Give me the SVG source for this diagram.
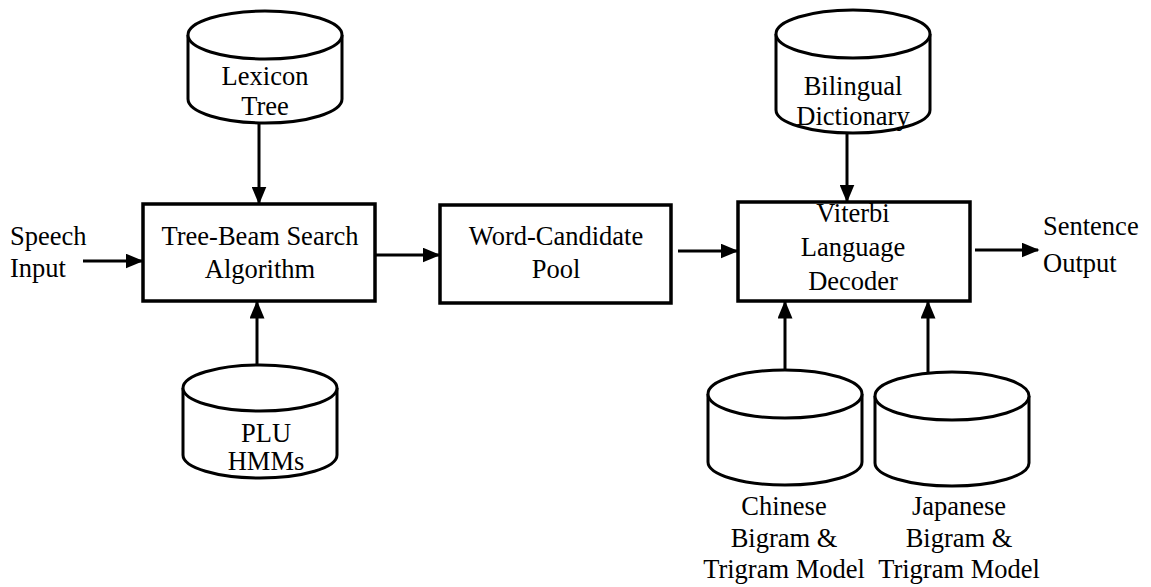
<svg xmlns="http://www.w3.org/2000/svg" width="1151" height="587" viewBox="0 0 1151 587">
  <style>
    .box { fill: #fff; stroke: #000; stroke-width: 3.5; }
    .db { fill: #fff; stroke: #000; stroke-width: 3; }
    .lbl { font-family: "Liberation Serif", "Times New Roman", serif; font-size: 26.5px; fill: #000; }
    .c { text-anchor: middle; }
    .edge { stroke: #000; stroke-width: 3; fill: none; marker-end: url(#arrow); }
  </style>
  <defs>
    <marker id="arrow" markerWidth="6" markerHeight="5" refX="5.5" refY="2.5" orient="auto" markerUnits="strokeWidth">
      <path d="M0,0 L6,2.5 L0,5 Z" fill="#000"/>
    </marker>
  </defs>
  <rect width="1151" height="587" fill="#fff"/>

  <!-- connectors -->
  <g id="connectors">
    <line class="edge" x1="83" y1="261" x2="142" y2="261"/>
    <line class="edge" x1="376" y1="255" x2="439" y2="255"/>
    <line class="edge" x1="678" y1="251" x2="737" y2="251"/>
    <line class="edge" x1="975" y1="250" x2="1038" y2="250"/>
    <line class="edge" x1="259" y1="123" x2="259" y2="203"/>
    <line class="edge" x1="257" y1="365" x2="257" y2="302"/>
    <line class="edge" x1="847" y1="134" x2="847" y2="201"/>
    <line class="edge" x1="785" y1="370" x2="785" y2="302"/>
    <line class="edge" x1="928" y1="372" x2="928" y2="302"/>
  </g>

  <!-- free labels -->
  <g id="speech-input">
    <text class="lbl" x="10" y="245">Speech</text>
    <text class="lbl" x="10" y="277">Input</text>
  </g>
  <g id="sentence-output">
    <text class="lbl" x="1043" y="235">Sentence</text>
    <text class="lbl" x="1043" y="272">Output</text>
  </g>

  <!-- process boxes -->
  <g id="tree-beam">
    <rect class="box" x="143" y="204" width="232" height="97"/>
    <text class="lbl c" x="260" y="245">Tree-Beam Search</text>
    <text class="lbl c" x="260" y="278">Algorithm</text>
  </g>
  <g id="word-candidate">
    <rect class="box" x="440" y="205" width="231" height="98"/>
    <text class="lbl c" x="556" y="245">Word-Candidate</text>
    <text class="lbl c" x="556" y="278">Pool</text>
  </g>
  <g id="viterbi">
    <rect class="box" x="738" y="202" width="232" height="99"/>
    <text class="lbl c" x="853" y="222">Viterbi</text>
    <text class="lbl c" x="853" y="256">Language</text>
    <text class="lbl c" x="853" y="290">Decoder</text>
  </g>

  <!-- databases -->
  <g id="lexicon-tree">
    <path class="db" d="M188,35 L188,99 A77,24 0 0 0 342,99 L342,35"/>
    <ellipse class="db" cx="265" cy="35" rx="77" ry="24"/>
    <text class="lbl c" x="265" y="85">Lexicon</text>
    <text class="lbl c" x="265" y="115">Tree</text>
  </g>
  <g id="plu-hmms">
    <path class="db" d="M183,388 L183,455 A77,23 0 0 0 337,455 L337,388"/>
    <ellipse class="db" cx="260" cy="388" rx="77" ry="23"/>
    <text class="lbl c" x="266" y="442">PLU</text>
    <text class="lbl c" x="266" y="470">HMMs</text>
  </g>
  <g id="bilingual-dictionary">
    <path class="db" d="M776,34 L776,110 A77,23 0 0 0 930,110 L930,34"/>
    <ellipse class="db" cx="853" cy="34" rx="77" ry="24"/>
    <text class="lbl c" x="853" y="95">Bilingual</text>
    <text class="lbl c" x="853" y="125">Dictionary</text>
  </g>
  <g id="chinese-model">
    <path class="db" d="M708,394 L708,462 A77,23 0 0 0 862,462 L862,394"/>
    <ellipse class="db" cx="785" cy="394" rx="77" ry="24"/>
    <text class="lbl c" x="784" y="515">Chinese</text>
    <text class="lbl c" x="784" y="547">Bigram &amp;</text>
    <text class="lbl c" x="784" y="578">Trigram Model</text>
  </g>
  <g id="japanese-model">
    <path class="db" d="M875,396 L875,463 A77,23 0 0 0 1029,463 L1029,396"/>
    <ellipse class="db" cx="952" cy="396" rx="77" ry="24"/>
    <text class="lbl c" x="959" y="515">Japanese</text>
    <text class="lbl c" x="959" y="547">Bigram &amp;</text>
    <text class="lbl c" x="959" y="578">Trigram Model</text>
  </g>
</svg>
